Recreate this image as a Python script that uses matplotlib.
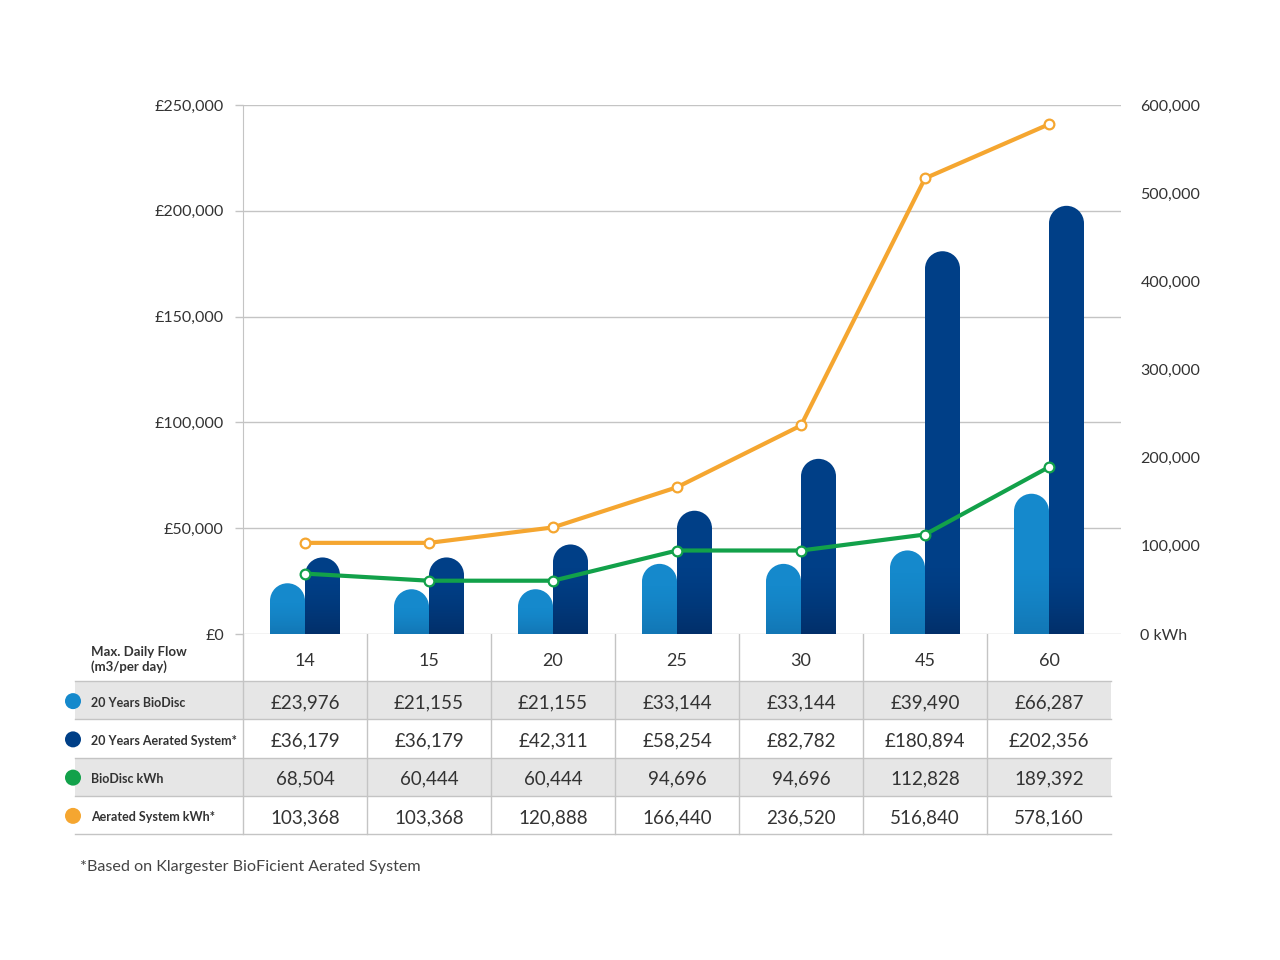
import numpy as np
from matplotlib import pyplot as plt
from matplotlib.patches import Rectangle, Ellipse, Circle

plt.rcParams['font.family'] = ['Lato', 'DejaVu Sans']

# data
flows = ['14', '15', '20', '25', '30', '45', '60']
biodisc_cost = [23976, 21155, 21155, 33144, 33144, 39490, 66287]
aerated_cost = [36179, 36179, 42311, 58254, 82782, 180894, 202356]
biodisc_kwh = [68504, 60444, 60444, 94696, 94696, 112828, 189392]
aerated_kwh = [103368, 103368, 120888, 166440, 236520, 516840, 578160]

header_label = 'Max. Daily Flow\n(m3/per day)'
row_labels = ['20 Years BioDisc', '20 Years Aerated System*', 'BioDisc kWh', 'Aerated System kWh*']
footnote = '*Based on Klargester BioFicient Aerated System'

cost_ticks = [0, 50000, 100000, 150000, 200000, 250000]
kwh_ticks = [0, 100000, 200000, 300000, 400000, 500000, 600000]

C_LIGHT = '#1589cc'
C_DARK = '#003f87'
C_GREEN = '#12a14a'
C_ORANGE = '#f5a630'
GRID = '#c4c4c4'
TEXT = '#333333'
BAND = '#e6e6e6'

W, H = 1280, 960
X0, X1, Y0, Y1 = 243, 1121, 105, 634   # plot box in pixels
COL_W = 124

fig = plt.figure(figsize=(W / 100, H / 100), dpi=100)
ax = fig.add_axes([X0 / W, 1 - Y1 / H, (X1 - X0) / W, (Y1 - Y0) / H])

x = np.arange(len(flows))
xlim = (-0.5, (X1 - X0) / COL_W - 0.5)
ylim = (0, cost_ticks[-1])
bw = 35 / COL_W
# data units per pixel, so the caps are round
ux = (xlim[1] - xlim[0]) / (X1 - X0)
uy = (ylim[1] - ylim[0]) / (Y1 - Y0)


def rounded_bar(x0, h, color, shade):
    r = bw / 2 / ux * uy
    body = max(h - r, 0)
    ax.add_patch(Rectangle((x0, 0), bw, body, color=color, lw=0, zorder=2))
    ax.add_patch(Ellipse((x0 + bw / 2, body), bw, 2 * r, color=color, lw=0, zorder=2))
    gh = min(body, 70 * uy)
    grad = np.zeros((64, 1, 4))
    grad[..., :3] = (0.02, 0.10, 0.25)
    grad[:, 0, 3] = np.linspace(shade, 0, 64) ** 1.5
    ax.imshow(grad, extent=(x0, x0 + bw, 0, gh), origin='lower', aspect='auto',
              interpolation='bilinear', zorder=2.5)


for i in x:
    rounded_bar(i - bw, biodisc_cost[i], C_LIGHT, 0.3)
    rounded_bar(i, aerated_cost[i], C_DARK, 0.55)

ax.set_xlim(*xlim)
ax.set_ylim(*ylim)
ax.set_yticks(cost_ticks)
ax.set_yticklabels(['£{:,}'.format(v) for v in cost_ticks])
ax.set_xticks([])
ax.grid(axis='y', color=GRID, lw=1)
ax.set_axisbelow(True)
ax.tick_params(axis='y', length=5.8, width=1, color=GRID, pad=8,
               labelsize=11.5, labelcolor=TEXT)
for s in ['top', 'right', 'bottom']:
    ax.spines[s].set_visible(False)
ax.spines['left'].set_color(GRID)

ax2 = ax.twinx()
ax2.plot(x, aerated_kwh, color=C_ORANGE, lw=3, marker='o', ms=7,
         mfc='white', mec=C_ORANGE, mew=1.6, zorder=3)
ax2.plot(x, biodisc_kwh, color=C_GREEN, lw=3, marker='o', ms=7,
         mfc='white', mec=C_GREEN, mew=1.6, zorder=3)
ax2.set_ylim(0, kwh_ticks[-1])
ax2.set_yticks(kwh_ticks)
ax2.set_yticklabels(['0 kWh'] + ['{:,}'.format(v) for v in kwh_ticks[1:]])
ax2.tick_params(axis='y', length=0, pad=14, labelsize=11.5, labelcolor=TEXT)
for s in ax2.spines.values():
    s.set_visible(False)
ax.set_xlim(*xlim)

# table below the chart, drawn in pixel space
tb = fig.add_axes([0, 0, 1, 1], zorder=-1)
tb.set_xlim(0, W)
tb.set_ylim(H, 0)
tb.axis('off')

row_h = 38.25
header_bot = 681
rows_top = [header_bot + row_h * k for k in range(5)]
row_vals = [
    ['£{:,}'.format(v) for v in biodisc_cost],
    ['£{:,}'.format(v) for v in aerated_cost],
    ['{:,}'.format(v) for v in biodisc_kwh],
    ['{:,}'.format(v) for v in aerated_kwh],
]
dots = [C_LIGHT, C_DARK, C_GREEN, C_ORANGE]
tbl_l, tbl_r = 75, X0 + COL_W * len(flows)

for k in (0, 2):
    tb.add_patch(Rectangle((tbl_l, rows_top[k]), tbl_r - tbl_l, row_h, color=BAND, lw=0))
for yy in rows_top:
    tb.plot([tbl_l, tbl_r], [yy, yy], color=GRID, lw=1)
for i in range(len(flows)):
    xx = X0 + COL_W * i
    tb.plot([xx, xx], [Y1, rows_top[-1]], color=GRID, lw=1)

tb.text(91, (Y1 + header_bot) / 2 + 2, header_label, fontsize=9.5, fontweight='bold',
        color=TEXT, va='center', ha='left', linespacing=1.2)
for i, f in enumerate(flows):
    cx = X0 + COL_W * (i + 0.5)
    tb.text(cx, (Y1 + header_bot) / 2 + 3, f, fontsize=13, color=TEXT, ha='center', va='center')
    for k in range(4):
        tb.text(cx, rows_top[k] + row_h / 2 + 2.5, row_vals[k][i], fontsize=13.5,
                color=TEXT, ha='center', va='center')

for k in range(4):
    cy = rows_top[k] + row_h / 2
    tb.add_patch(Circle((73, cy + 1), 8, color=dots[k], lw=0))
    tb.text(91, cy + 2.5, row_labels[k], fontsize=9, fontweight='bold', color=TEXT,
            ha='left', va='center')

tb.text(80, 867, footnote, fontsize=11.6, color='#444444', ha='left', va='center')

fig.savefig('out.png', dpi=100)
